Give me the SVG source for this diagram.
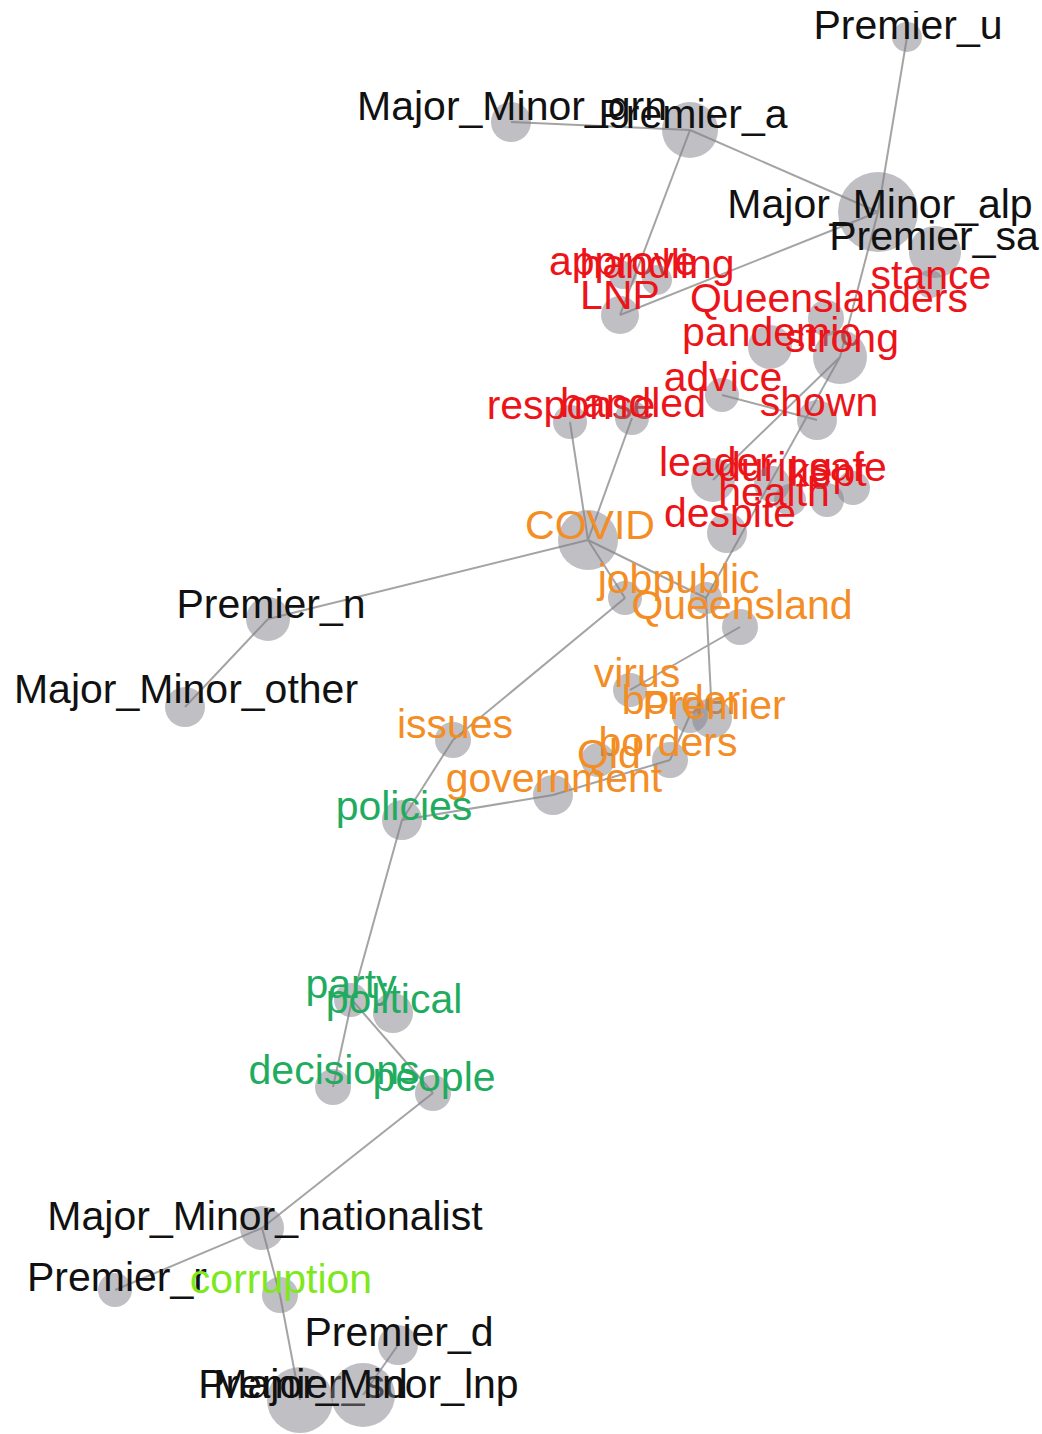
<svg xmlns="http://www.w3.org/2000/svg" width="1042" height="1434" viewBox="0 0 1042 1434">
<style>
text{font-family:"Liberation Sans",Arial,sans-serif;font-size:41px;text-anchor:middle}
.n circle{fill:#80808a;fill-opacity:0.5}
.k text{fill:#111111}
.r text{fill:#ec1419}
.o text{fill:#f38d24}
.g text{fill:#1fac5f}
.l text{fill:#7de81c}
#edges line{stroke:#a4a4a4;stroke-width:2}
</style>
<defs>
<clipPath id="topclip"><rect x="0" y="11" width="1042" height="1423"/></clipPath>
</defs>
<rect width="1042" height="1434" fill="#ffffff"/>
<g id="edges">
<line x1="907" y1="37" x2="878" y2="212"/>
<line x1="511" y1="122" x2="690" y2="130"/>
<line x1="690" y1="130" x2="878" y2="212"/>
<line x1="690" y1="130" x2="620" y2="315"/>
<line x1="878" y1="212" x2="620" y2="315"/>
<line x1="878" y1="212" x2="840" y2="357"/>
<line x1="840" y1="357" x2="713" y2="480"/>
<line x1="840" y1="357" x2="706" y2="598"/>
<line x1="722" y1="395" x2="817" y2="420"/>
<line x1="570" y1="422" x2="588" y2="540"/>
<line x1="632" y1="418" x2="588" y2="540"/>
<line x1="588" y1="540" x2="268" y2="619"/>
<line x1="268" y1="619" x2="185" y2="707"/>
<line x1="588" y1="540" x2="625" y2="598"/>
<line x1="588" y1="540" x2="706" y2="598"/>
<line x1="625" y1="598" x2="453" y2="740"/>
<line x1="453" y1="740" x2="402" y2="820"/>
<line x1="740" y1="627" x2="630" y2="690"/>
<line x1="706" y1="598" x2="712" y2="717"/>
<line x1="690" y1="715" x2="670" y2="760"/>
<line x1="670" y1="760" x2="553" y2="795"/>
<line x1="553" y1="795" x2="402" y2="820"/>
<line x1="402" y1="820" x2="352" y2="1000"/>
<line x1="352" y1="1000" x2="333" y2="1087"/>
<line x1="352" y1="1000" x2="433" y2="1093"/>
<line x1="433" y1="1093" x2="262" y2="1228"/>
<line x1="262" y1="1228" x2="115" y2="1290"/>
<line x1="262" y1="1228" x2="280" y2="1295"/>
<line x1="280" y1="1295" x2="300" y2="1400"/>
<line x1="398" y1="1345" x2="363" y2="1395"/>
</g>
<g id="n_premier_u" class="n k"><circle cx="907" cy="37" r="15"/><text x="908" y="39" clip-path="url(#topclip)">Premier_u</text></g>
<g id="n_mm_grn" class="n k"><circle cx="511" cy="122" r="20"/><text x="512" y="120">Major_Minor_grn</text></g>
<g id="n_premier_a" class="n k"><circle cx="690" cy="130" r="28"/><text x="693" y="128">Premier_a</text></g>
<g id="n_mm_alp" class="n k"><circle cx="878" cy="212" r="40"/><text x="880" y="218">Major_Minor_alp</text></g>
<g id="n_premier_sa" class="n k"><circle cx="935" cy="252" r="26"/><text x="934" y="250">Premier_sa</text></g>
<g id="n_approve" class="n r"><circle cx="623" cy="275" r="14"/><text x="623" y="275">approve</text></g>
<g id="n_handling" class="n r"><circle cx="657" cy="280" r="15"/><text x="657" y="278">handling</text></g>
<g id="n_lnp_w" class="n r"><circle cx="620" cy="315" r="19"/><text x="620" y="309">LNP</text></g>
<g id="n_stance" class="n r"><circle cx="930" cy="284" r="14"/><text x="931" y="289">stance</text></g>
<g id="n_queenslanders" class="n r"><circle cx="826" cy="318" r="18"/><text x="829" y="312">Queenslanders</text></g>
<g id="n_pandemic" class="n r"><circle cx="770" cy="347" r="22"/><text x="771" y="346">pandemic</text></g>
<g id="n_strong" class="n r"><circle cx="840" cy="357" r="27"/><text x="842" y="352">strong</text></g>
<g id="n_advice" class="n r"><circle cx="722" cy="395" r="17"/><text x="723" y="391">advice</text></g>
<g id="n_shown" class="n r"><circle cx="817" cy="420" r="20"/><text x="819" y="416">shown</text></g>
<g id="n_response" class="n r"><circle cx="570" cy="422" r="17"/><text x="571" y="419">response</text></g>
<g id="n_handled" class="n r"><circle cx="632" cy="418" r="17"/><text x="633" y="417">handled</text></g>
<g id="n_leader" class="n r"><circle cx="713" cy="480" r="22"/><text x="716" y="476">leader</text></g>
<g id="n_during" class="n r"><circle cx="772" cy="484" r="18"/><text x="775" y="481">during</text></g>
<g id="n_safe" class="n r"><circle cx="853" cy="488" r="17"/><text x="848" y="481">safe</text></g>
<g id="n_kept" class="n r"><circle cx="827" cy="500" r="17"/><text x="828" y="486">kept</text></g>
<g id="n_health" class="n r"><circle cx="790" cy="500" r="16"/><text x="774" y="506">health</text></g>
<g id="n_despite" class="n r"><circle cx="727" cy="533" r="20"/><text x="730" y="527">despite</text></g>
<g id="n_covid" class="n o"><circle cx="588" cy="540" r="30"/><text x="590" y="539">COVID</text></g>
<g id="n_job" class="n o"><circle cx="625" cy="598" r="17"/><text x="625" y="593">job</text></g>
<g id="n_public" class="n o"><circle cx="706" cy="598" r="16"/><text x="706" y="593">public</text></g>
<g id="n_queensland" class="n o"><circle cx="740" cy="627" r="18"/><text x="742" y="619">Queensland</text></g>
<g id="n_virus" class="n o"><circle cx="630" cy="690" r="17"/><text x="637" y="687">virus</text></g>
<g id="n_border" class="n o"><circle cx="690" cy="715" r="18"/><text x="681" y="714">border</text></g>
<g id="n_premier_w" class="n o"><circle cx="712" cy="718" r="20"/><text x="714" y="719">Premier</text></g>
<g id="n_borders" class="n o"><circle cx="670" cy="760" r="18"/><text x="668" y="756">borders</text></g>
<g id="n_qld" class="n o"><circle cx="598" cy="760" r="17"/><text x="609" y="768">Qld</text></g>
<g id="n_government" class="n o"><circle cx="553" cy="795" r="20"/><text x="554" y="792">government</text></g>
<g id="n_issues" class="n o"><circle cx="453" cy="740" r="18"/><text x="455" y="738">issues</text></g>
<g id="n_policies" class="n g"><circle cx="402" cy="820" r="20"/><text x="404" y="820">policies</text></g>
<g id="n_party" class="n g"><circle cx="351" cy="1000" r="17"/><text x="351" y="998">party</text></g>
<g id="n_political" class="n g"><circle cx="393" cy="1013" r="20"/><text x="394" y="1013">political</text></g>
<g id="n_decisions" class="n g"><circle cx="333" cy="1087" r="18"/><text x="334" y="1084">decisions</text></g>
<g id="n_people" class="n g"><circle cx="433" cy="1093" r="18"/><text x="434" y="1091">people</text></g>
<g id="n_premier_n" class="n k"><circle cx="268" cy="619" r="22"/><text x="271" y="618">Premier_n</text></g>
<g id="n_mm_other" class="n k"><circle cx="185" cy="707" r="20"/><text x="186" y="703">Major_Minor_other</text></g>
<g id="n_mm_nationalist" class="n k"><circle cx="262" cy="1228" r="22"/><text x="265" y="1230">Major_Minor_nationalist</text></g>
<g id="n_premier_r" class="n k"><circle cx="115" cy="1290" r="17"/><text x="117" y="1291">Premier_r</text></g>
<g id="n_corruption" class="n l"><circle cx="280" cy="1295" r="18"/><text x="281" y="1293">corruption</text></g>
<g id="n_premier_d" class="n k"><circle cx="398" cy="1345" r="20"/><text x="399" y="1346">Premier_d</text></g>
<g id="n_premier_sd" class="n k"><circle cx="300" cy="1400" r="33"/><text x="303" y="1398">Premier_sd</text></g>
<g id="n_mm_lnp" class="n k"><circle cx="363" cy="1395" r="32"/><text x="366" y="1398">Major_Minor_lnp</text></g>
</svg>
